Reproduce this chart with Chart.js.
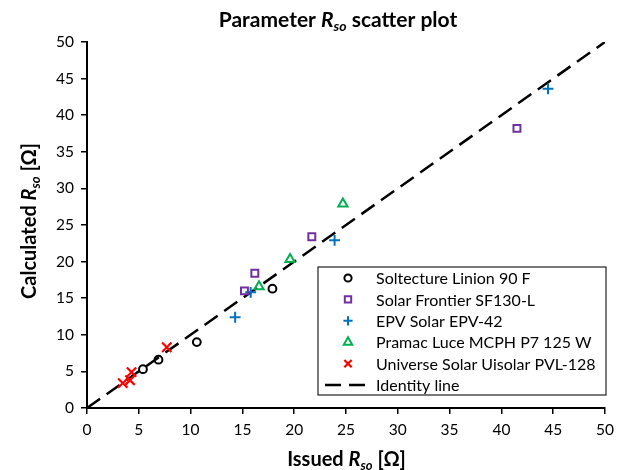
<!DOCTYPE html>
<html>
<head>
<meta charset="utf-8">
<script src="https://cdn.jsdelivr.net/npm/chart.js@4.4.1/dist/chart.umd.min.js"></script>
<style>
  html, body { margin: 0; padding: 0; background: #fff; }
  #wrap { width: 633px; height: 470px; position: relative; }
</style>
</head>
<body>
<div id="wrap"><canvas id="c" width="633" height="470"></canvas></div>
<script>
// ---- Data ----
const seriesLabels = [
  'Soltecture Linion 90 F',
  'Solar Frontier SF130-L',
  'EPV Solar EPV-42',
  'Pramac Luce MCPH P7 125 W',
  'Universe Solar Uisolar PVL-128'
];
const issuedSoltecture = [5.4, 6.9, 10.6, 17.9];
const calcSoltecture   = [5.3, 6.6, 9.0, 16.3];
const issuedFrontier   = [15.2, 16.2, 21.7, 41.5];
const calcFrontier     = [16.0, 18.4, 23.4, 38.2];
const issuedEPV        = [14.3, 15.8, 23.9, 44.5];
const calcEPV          = [12.4, 15.8, 22.9, 43.6];
const issuedPramac     = [16.6, 19.6, 24.7];
const calcPramac       = [16.6, 20.3, 27.9];
const issuedUniverse   = [3.45, 4.15, 4.3, 7.7];
const calcUniverse     = [3.4, 3.8, 4.9, 8.3];
const identityLabel    = 'Identity line';
const identityX        = [0, 50];
const identityY        = [0, 50];
const axisMin = 0, axisMax = 50, axisStep = 5;

function pts(xs, ys) { return xs.map((x, i) => ({ x: x, y: ys[i] })); }

const FONT = 'Lato, "Noto Sans", "DejaVu Sans", sans-serif';

const datasets = [
  { label: seriesLabels[0], data: pts(issuedSoltecture, calcSoltecture),
    pointStyle: 'circle', pointRadius: 3.9, borderWidth: 2,
    borderColor: '#000000', backgroundColor: 'rgba(0,0,0,0)' },
  { label: seriesLabels[1], data: pts(issuedFrontier, calcFrontier),
    pointStyle: 'rect', pointRadius: 4.9, borderWidth: 2,
    borderColor: '#7030A0', backgroundColor: 'rgba(0,0,0,0)' },
  { label: seriesLabels[2], data: pts(issuedEPV, calcEPV),
    pointStyle: 'cross', pointRadius: 5.4, borderWidth: 2,
    borderColor: '#0070C0', backgroundColor: 'rgba(0,0,0,0)' },
  { label: seriesLabels[3], data: pts(issuedPramac, calcPramac),
    pointStyle: 'triangle', pointRadius: 5.3, borderWidth: 2,
    borderColor: '#00B050', backgroundColor: 'rgba(0,0,0,0)' },
  { label: seriesLabels[4], data: pts(issuedUniverse, calcUniverse),
    pointStyle: 'crossRot', pointRadius: 6.6, borderWidth: 2.2,
    borderColor: '#FF0000', backgroundColor: 'rgba(0,0,0,0)' },
  { label: identityLabel, type: 'line', data: pts(identityX, identityY),
    showLine: true, pointRadius: 0, borderWidth: 2.5, borderColor: '#000000',
    borderDash: [16, 8], fill: false, tension: 0 }
];

function drawRich(ctx, parts, x, y, align) {
  let total = 0;
  parts.forEach(p => { ctx.font = p.font; p.w = ctx.measureText(p.t).width; total += p.w; });
  let cx = align === 'center' ? x - total / 2 : x;
  ctx.textBaseline = 'alphabetic';
  ctx.textAlign = 'left';
  parts.forEach(p => {
    ctx.font = p.font;
    ctx.fillText(p.t, cx, y + (p.dy || 0));
    cx += p.w;
  });
}

function ownPoint(ctx, style, r, x, y) {
  ctx.beginPath();
  if (style === 'circle') { ctx.arc(x, y, r, 0, Math.PI * 2); ctx.closePath(); }
  else if (style === 'rect') { const s = Math.SQRT1_2 * r; ctx.rect(x - s, y - s, 2 * s, 2 * s); }
  else if (style === 'cross') { ctx.moveTo(x, y - r); ctx.lineTo(x, y + r); ctx.moveTo(x - r, y); ctx.lineTo(x + r, y); }
  else if (style === 'crossRot') { const o = Math.SQRT1_2 * r; ctx.moveTo(x - o, y - o); ctx.lineTo(x + o, y + o); ctx.moveTo(x - o, y + o); ctx.lineTo(x + o, y - o); }
  else if (style === 'triangle') {
    ctx.moveTo(x, y - r);
    ctx.lineTo(x + Math.sin(Math.PI / 3) * r, y + r / 2);
    ctx.lineTo(x - Math.sin(Math.PI / 3) * r, y + r / 2);
    ctx.closePath();
  }
  ctx.stroke();
}

const textPlugin = {
  id: 'richText',
  afterDraw(chart) {
    const ctx = chart.ctx;
    ctx.save();
    ctx.fillStyle = '#000';
    // Title
    drawRich(ctx, [
      { t: 'Parameter ', font: 'bold 21px ' + FONT },
      { t: 'R', font: 'italic bold 21px ' + FONT },
      { t: 'so', font: 'italic bold 14px ' + FONT, dy: 4 },
      { t: ' scatter plot', font: 'bold 21px ' + FONT }
    ], 338, 27, 'center');
    // X axis title
    drawRich(ctx, [
      { t: 'Issued ', font: 'bold 20px ' + FONT },
      { t: 'R', font: 'italic bold 20px ' + FONT },
      { t: 'so', font: 'italic bold 13px ' + FONT, dy: 4 },
      { t: ' [\u03A9]', font: 'bold 20px ' + FONT }
    ], 346.5, 466, 'center');
    // Y axis title
    ctx.translate(36, 221);
    ctx.rotate(-Math.PI / 2);
    drawRich(ctx, [
      { t: 'Calculated ', font: 'bold 20px ' + FONT },
      { t: 'R', font: 'italic bold 20px ' + FONT },
      { t: 'so', font: 'italic bold 13px ' + FONT, dy: 4 },
      { t: ' [\u03A9]', font: 'bold 20px ' + FONT }
    ], 0, 0, 'center');
    ctx.restore();

    // Legend box
    const bx = 318, by = 267, bw = 288, bh = 128;
    ctx.save();
    ctx.fillStyle = '#ffffff';
    ctx.fillRect(bx, by, bw, bh);
    ctx.strokeStyle = '#222';
    ctx.lineWidth = 1.2;
    ctx.strokeRect(bx, by, bw, bh);
    const rowH = 21.4;
    chart.data.datasets.forEach((ds, i) => {
      const cy = by + 11 + i * rowH;
      ctx.strokeStyle = ds.borderColor;
      ctx.fillStyle = 'rgba(0,0,0,0)';
      if (ds.type === 'line') {
        ctx.lineWidth = ds.borderWidth;
        ctx.setLineDash([]);
        ctx.beginPath();
        ctx.moveTo(325, cy); ctx.lineTo(341, cy);
        ctx.moveTo(349, cy); ctx.lineTo(365, cy);
        ctx.stroke();
      } else {
        ctx.lineWidth = ds.borderWidth;
        const r = ds.pointStyle === 'crossRot' ? 5.2 : (ds.pointStyle === 'cross' ? 4.6 : ds.pointRadius * 0.92);
        if (Chart.helpers && Chart.helpers.drawPoint) {
          Chart.helpers.drawPoint(ctx, { pointStyle: ds.pointStyle, rotation: 0, radius: r, borderWidth: ds.borderWidth }, 348, cy);
        } else {
          ownPoint(ctx, ds.pointStyle, r, 348, cy);
        }
      }
      ctx.fillStyle = '#000';
      ctx.font = '16px ' + FONT;
      ctx.textBaseline = 'middle';
      ctx.textAlign = 'left';
      ctx.fillText(ds.label, 376, cy + 1);
    });
    ctx.restore();
  }
};

const tickValues = [];
for (let v = axisMin; v <= axisMax; v += axisStep) tickValues.push(v);

new Chart(document.getElementById('c'), {
  type: 'scatter',
  data: { datasets: datasets },
  options: {
    responsive: false,
    animation: false,
    devicePixelRatio: 1,
    layout: { padding: { left: 0, right: 28, top: 42, bottom: 0 } },
    plugins: { legend: { display: false }, title: { display: false }, tooltip: { enabled: false } },
    scales: {
      x: {
        type: 'linear', min: axisMin, max: axisMax,
        afterBuildTicks: s => { s.ticks = tickValues.map(v => ({ value: v })); },
        afterFit: s => { s.height = 62; },
        ticks: { color: '#000', font: { family: FONT, size: 15.5 }, padding: 7, maxRotation: 0 },
        grid: { drawOnChartArea: false, drawTicks: true, tickLength: 6, color: '#000', lineWidth: 1.5 },
        border: { display: true, color: '#000', width: 2 }
      },
      y: {
        type: 'linear', min: axisMin, max: axisMax,
        afterBuildTicks: s => { s.ticks = tickValues.map(v => ({ value: v })); },
        afterFit: s => { s.width = 87; },
        ticks: { color: '#000', font: { family: FONT, size: 15.5 }, padding: 7 },
        grid: { drawOnChartArea: false, drawTicks: true, tickLength: 6, color: '#000', lineWidth: 1.5 },
        border: { display: true, color: '#000', width: 2 }
      }
    }
  },
  plugins: [textPlugin]
});
</script>
</body>
</html>
